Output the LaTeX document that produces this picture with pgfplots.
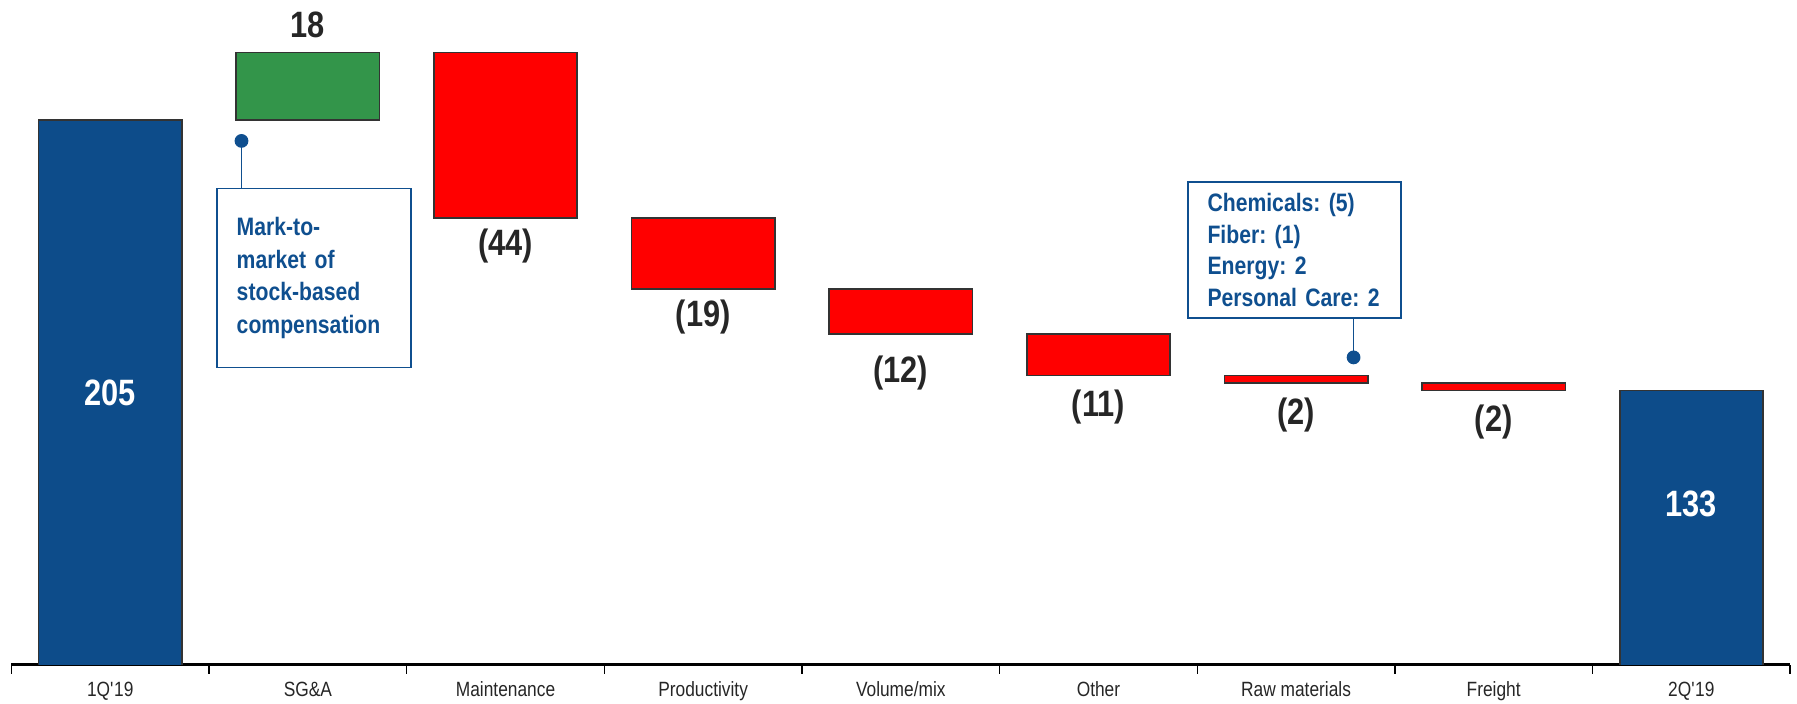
\documentclass[border=0pt]{standalone}
\usepackage{fontspec}
\setmainfont[FakeStretch=0.84]{Liberation Sans}
\usepackage{pgfplots}
\pgfplotsset{compat=1.18}
\usetikzlibrary{arrows.meta}
\definecolor{barblue}{HTML}{0D4C8A}
\definecolor{annotblue}{HTML}{0F4F8F}
\definecolor{bargreen}{HTML}{33954A}
\definecolor{barred}{HTML}{FF0000}
\definecolor{bardark}{HTML}{333333}
\newcommand\vlab{\fontsize{16}{18}\selectfont\bfseries}
\frenchspacing
\begin{document}
\begin{tikzpicture}
\begin{axis}[
  width=776pt, height=290pt, scale only axis,
  xmin=-0.5, xmax=8.5, ymin=60, ymax=237,
  ybar stacked, bar width=62.5pt,
  axis x line*=bottom, axis y line=none,
  axis line style={line width=1.2pt, -},
  every outer x axis line/.append style={-},
  xtick={0,...,8},
  xticklabels={1Q\textquotesingle19, SG\&A, Maintenance, Productivity, Volume/mix, Other, Raw materials, Freight, 2Q\textquotesingle19},
  major tick length=0pt,
  minor xtick={-0.5,0.5,...,8.5},
  minor tick length=4pt, tick align=outside,
  minor tick style={black, line width=0.6pt},
  xticklabel style={font=\fontsize{9}{10}\selectfont, text=black!85, yshift=-4pt},
  clip mode=individual,
]
% invisible base
\addplot[fill=none, draw=none] coordinates {(0,0) (1,205) (2,179) (3,160) (4,148) (5,137) (6,135) (7,133) (8,0)};
% totals
\addplot[fill=barblue, draw=bardark, line width=0.7pt] coordinates {(0,205) (1,0) (2,0) (3,0) (4,0) (5,0) (6,0) (7,0) (8,133)};
% increase
\addplot[fill=bargreen, draw=bardark, line width=0.7pt] coordinates {(0,0) (1,18) (2,0) (3,0) (4,0) (5,0) (6,0) (7,0) (8,0)};
% decreases
\addplot[fill=barred, draw=bardark, line width=0.7pt] coordinates {(0,0) (1,0) (2,44) (3,19) (4,12) (5,11) (6,2) (7,2) (8,0)};

\coordinate (l0) at (axis cs:0,132.5);
\coordinate (l8) at (axis cs:8,102.7);
\coordinate (l1) at (axis cs:1,230.3);
\coordinate (l2) at (axis cs:2,171.4);
\coordinate (l3) at (axis cs:3,152.5);
\coordinate (l4) at (axis cs:4,137.8);
\coordinate (l5) at (axis cs:5,128.7);
\coordinate (l6) at (axis cs:6,126.5);
\coordinate (l7) at (axis cs:7,124.7);
\coordinate (b1) at (axis cs:0.537,187);
\coordinate (c1a) at (axis cs:0.664,187);
\coordinate (c1b) at (axis cs:0.664,201.3);
\coordinate (b2) at (axis cs:5.449,188.8);
\coordinate (c2a) at (axis cs:6.291,152.5);
\coordinate (c2b) at (axis cs:6.291,140);
\end{axis}

\node[font=\vlab, text=white] at (l0) {205};
\node[font=\vlab, text=white] at (l8) {133};
\node[font=\vlab, text=black!85] at (l1) {18};
\node[font=\vlab, text=black!85] at (l2) {(44)};
\node[font=\vlab, text=black!85] at (l3) {(19)};
\node[font=\vlab, text=black!85] at (l4) {(12)};
\node[font=\vlab, text=black!85] at (l5) {(11)};
\node[font=\vlab, text=black!85] at (l6) {(2)};
\node[font=\vlab, text=black!85] at (l7) {(2)};

\node[draw=annotblue, line width=0.75pt, text=annotblue,
  font=\fontsize{11}{14.2}\selectfont\bfseries, anchor=north west,
  minimum width=84.5pt, minimum height=78pt, text width=67.5pt,
  inner xsep=8.5pt, align=left] at (b1)
  {Mark-to-\\market of\\stock-based\\compensation};
\draw[annotblue, line width=0.8pt, -{Circle[length=6pt]}] (c1a) -- (c1b);

\node[draw=annotblue, line width=0.75pt, text=annotblue,
  font=\fontsize{11}{13.8}\selectfont\bfseries, anchor=north west,
  minimum width=93pt, minimum height=59.5pt, text width=76pt,
  inner xsep=8.5pt, align=left] at (b2)
  {Chemicals: (5)\\Fiber: (1)\\Energy: 2\\Personal Care: 2};
\draw[annotblue, line width=0.8pt, -{Circle[length=6pt]}] (c2a) -- (c2b);

\pgfresetboundingbox
\path ([xshift=-5pt,yshift=-17pt]current axis.south west) rectangle ([xshift=3pt]current axis.north east);
\end{tikzpicture}
\end{document}
